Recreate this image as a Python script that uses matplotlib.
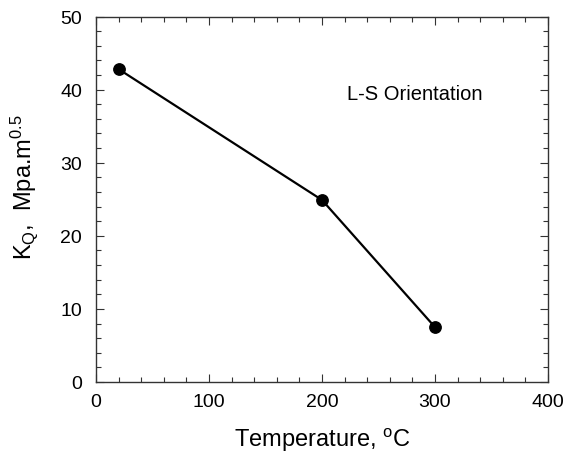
import matplotlib
matplotlib.use("Agg")
import matplotlib.pyplot as plt
from matplotlib.ticker import MultipleLocator

temperature = [20, 200, 300]
kq = [42.8, 24.9, 7.5]
x_ticks = [0, 100, 200, 300, 400]
y_ticks = [0, 10, 20, 30, 40, 50]

plt.rcParams['font.family'] = ['Liberation Sans', 'DejaVu Sans']
plt.rcParams['mathtext.fontset'] = 'custom'
plt.rcParams['mathtext.rm'] = 'Liberation Sans'

fig = plt.figure(figsize=(5.69, 4.56), dpi=100)
ax = fig.add_axes([96/569, 1 - 383/456, (548-96)/569, (383-17.5)/456])

ax.plot(temperature, kq, color='black', lw=1.6, marker='o', ms=8.2, mfc='black', mec='black')

ax.set_xlim(0, 400)
ax.set_ylim(0, 50)
ax.set_xticks(x_ticks)
ax.set_yticks(y_ticks)
ax.xaxis.set_minor_locator(MultipleLocator(20))
ax.yaxis.set_minor_locator(MultipleLocator(2))
ax.tick_params(which='both', direction='in', top=True, right=True, width=0.8, color='#333333')
ax.tick_params(which='major', length=6, labelsize=14)
ax.tick_params(axis='x', which='major', pad=8)
ax.tick_params(axis='y', which='major', pad=10)
ax.tick_params(which='minor', length=3.5)
for s in ax.spines.values():
    s.set_linewidth(1.0)
    s.set_color('#333333')

ax.set_xlabel('Temperature, $\\mathregular{^{o}}$C', fontsize=17, labelpad=11)
fig.text(24/569, 1 - 260/456, 'K$\\mathregular{_{Q}}$,  Mpa.m$\\mathregular{^{0.5}}$',
         fontsize=17, rotation=90, ha='center', va='bottom')

ax.text(222, 39.5, 'L-S Orientation', fontsize=14.5, va='center', ha='left')

fig.savefig('out.png', dpi=100)
